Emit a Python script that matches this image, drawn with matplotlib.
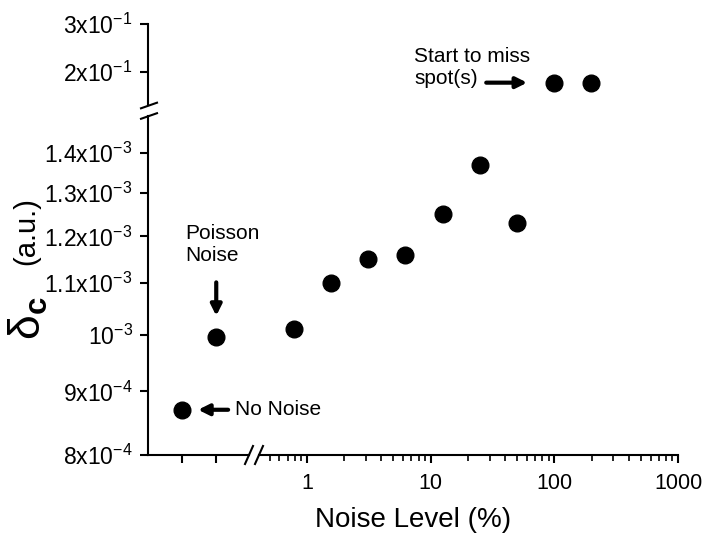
import numpy as np
import matplotlib
matplotlib.use("Agg")
import matplotlib.pyplot as plt
from matplotlib.lines import Line2D
from matplotlib.ticker import FixedLocator, NullLocator, LogLocator, NullFormatter

plt.rcParams['font.family'] = ['Liberation Sans', 'DejaVu Sans']
plt.rcParams['mathtext.fontset'] = 'custom'
plt.rcParams['mathtext.rm'] = 'Liberation Sans'
plt.rcParams['mathtext.bf'] = 'Liberation Sans:bold'
plt.rcParams['mathtext.default'] = 'regular'

# --- data ---
ref_pos = [1, 2]                      # No Noise, Poisson Noise
ref_delta = [8.70e-4, 9.95e-4]

noise_low = [0.78125, 1.5625, 3.125, 6.25, 12.5, 25, 50]
delta_low = [1.01e-3, 1.10e-3, 1.15e-3, 1.16e-3, 1.25e-3, 1.37e-3, 1.23e-3]

noise_high = [100, 200]
delta_high = [0.183, 0.183]

ytick_low = [8e-4, 9e-4, 1e-3, 1.1e-3, 1.2e-3, 1.3e-3, 1.4e-3]
ytick_low_lbl = [r'$8x10^{-4}$', r'$9x10^{-4}$', r'$10^{-3}$', r'$1.1x10^{-3}$',
                 r'$1.2x10^{-3}$', r'$1.3x10^{-3}$', r'$1.4x10^{-3}$']
ytick_high = [0.2, 0.3]
ytick_high_lbl = [r'$2x10^{-1}$', r'$3x10^{-1}$']
xtick_log = [1, 10, 100, 1000]
xtick_log_lbl = ['1', '10', '100', '1000']

# --- figure / axes (pixel layout) ---
W, H = 714, 545
fig = plt.figure(figsize=(W / 100, H / 100), dpi=100)

def box(x0, y0, x1, y1):
    return [x0 / W, 1 - y1 / H, (x1 - x0) / W, (y1 - y0) / H]

ax_top = fig.add_axes(box(148, 24, 678, 105))
ax_bl = fig.add_axes(box(148, 116, 249, 455))
ax_br = fig.add_axes(box(259, 116, 678, 455))

lw = 1.5
tick_kw = dict(direction='out', width=lw, length=6, color='black')
ylab = 16.5
ms = 12

# top part
ax_top.plot(noise_high, delta_high, 'o', color='black', ms=ms, clip_on=False)
ax_top.set_xscale('log')
ax_top.set_yscale('log')
ax_top.set_xlim(0.0522, 1000)
ax_top.set_ylim(0.1516, 0.3)
ax_top.yaxis.set_major_locator(FixedLocator(ytick_high))
ax_top.yaxis.set_minor_locator(NullLocator())
ax_top.set_yticklabels(ytick_high_lbl)
ax_top.tick_params(axis='y', pad=5, labelsize=ylab, **tick_kw)
ax_top.tick_params(axis='x', which='both', bottom=False, labelbottom=False)
for s in ['top', 'right', 'bottom']:
    ax_top.spines[s].set_visible(False)
ax_top.spines['left'].set_linewidth(lw)
ax_top.patch.set_alpha(0)

# bottom-left (reference cases)
ax_bl.plot(ref_pos, ref_delta, 'o', color='black', ms=ms, clip_on=False)
ax_bl.set_yscale('log')
ax_bl.set_xlim(0, 2.96)
ax_bl.set_ylim(8e-4, 1.5e-3)
ax_bl.yaxis.set_major_locator(FixedLocator(ytick_low))
ax_bl.yaxis.set_minor_locator(NullLocator())
ax_bl.set_yticklabels(ytick_low_lbl)
ax_bl.set_xticks(ref_pos)
ax_bl.set_xticklabels([])
ax_bl.tick_params(axis='y', pad=5, labelsize=ylab, **tick_kw)
ax_bl.tick_params(axis='x', **tick_kw)
for s in ['top', 'right']:
    ax_bl.spines[s].set_visible(False)
for s in ['left', 'bottom']:
    ax_bl.spines[s].set_linewidth(lw)
ax_bl.patch.set_alpha(0)

# bottom-right (log noise levels)
ax_br.plot(noise_low, delta_low, 'o', color='black', ms=ms, clip_on=False)
ax_br.set_xscale('log')
ax_br.set_yscale('log')
ax_br.set_xlim(0.41, 1000)
ax_br.set_ylim(8e-4, 1.5e-3)
ax_br.xaxis.set_major_locator(FixedLocator(xtick_log))
ax_br.set_xticklabels(xtick_log_lbl)
ax_br.xaxis.set_minor_locator(LogLocator(base=10, subs=np.arange(2, 10)))
ax_br.xaxis.set_minor_formatter(NullFormatter())
ax_br.tick_params(axis='x', which='major', pad=7, labelsize=15.5, **tick_kw)
ax_br.tick_params(axis='x', which='minor', direction='out', width=1.2, length=4)
ax_br.tick_params(axis='y', which='both', left=False, labelleft=False)
for s in ['top', 'right', 'left']:
    ax_br.spines[s].set_visible(False)
ax_br.spines['bottom'].set_linewidth(lw)
ax_br.patch.set_alpha(0)

# --- axis break marks ---
def slash(cx, cy, dx, dy):
    fig.add_artist(Line2D([(cx - dx) / W, (cx + dx) / W],
                          [1 - (cy + dy) / H, 1 - (cy - dy) / H],
                          color='black', lw=lw))

slash(149, 105.5, 8, 2.8)
slash(149, 116, 8, 2.8)
slash(249, 455, 4, 9)
slash(259, 455, 4, 9)

# --- annotations ---
arrow = dict(arrowstyle='-|>', color='black', lw=3, mutation_scale=16, shrinkA=0)

ax_bl.annotate('', xy=(ref_pos[0], ref_delta[0]), xytext=(46, 0),
               textcoords='offset pixels', arrowprops=dict(arrow, shrinkB=11.5))
ax_bl.annotate('No Noise', xy=(ref_pos[0], ref_delta[0]), xytext=(53, 0),
               textcoords='offset pixels', ha='left', va='center', fontsize=15)

ax_bl.annotate('', xy=(ref_pos[1], ref_delta[1]), xytext=(0, 55),
               textcoords='offset pixels', arrowprops=dict(arrow, shrinkB=15.5),
               annotation_clip=False)
ax_bl.annotate('Poisson\nNoise', xy=(ref_pos[1], ref_delta[1]), xytext=(-31, 93),
               textcoords='offset pixels', ha='left', va='center', fontsize=15,
               annotation_clip=False)

ax_top.annotate('', xy=(noise_high[0], delta_high[0]), xytext=(-68, 0),
                textcoords='offset pixels', arrowprops=dict(arrow, shrinkB=19.5))
ax_top.annotate('Start to miss\nspot(s)', xy=(noise_high[0], delta_high[0]),
                xytext=(-140, 15), textcoords='offset pixels', ha='left',
                va='center', fontsize=15)

# --- axis labels ---
fig.text(413 / W, 1 - 520 / H, 'Noise Level (%)', ha='center', va='center', fontsize=20)
fig.text(28 / W, 1 - 318 / H, r'δ$_{\mathbf{c}}$', rotation=90, ha='center',
         va='center', fontsize=32)
fig.text(26 / W, 1 - 231 / H, '(a.u.)', rotation=90, ha='center', va='center', fontsize=21)

fig.savefig('out.png', dpi=100)
